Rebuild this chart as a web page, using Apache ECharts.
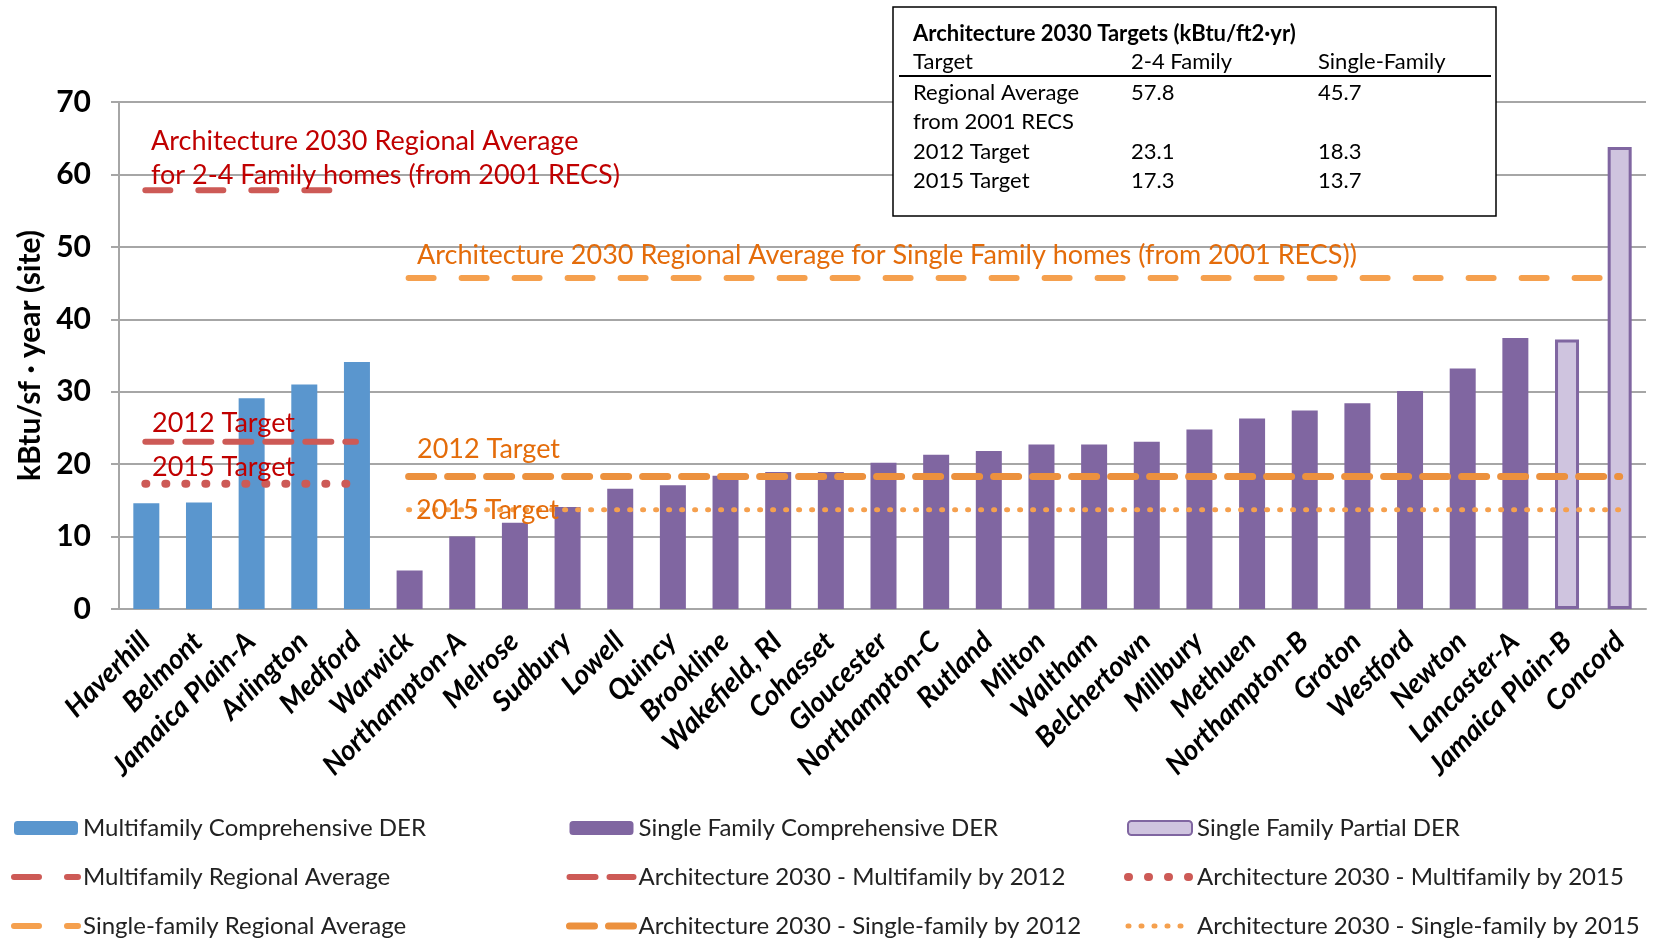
<!DOCTYPE html>
<html>
<head>
<meta charset="utf-8">
<script src="https://cdn.jsdelivr.net/npm/echarts@6/dist/echarts.min.js"></script>
<style>
  html, body { margin: 0; padding: 0; background: #fff; }
  #chart { width: 1663px; height: 941px; }
</style>
</head>
<body>
<div id="chart"></div>
<script>
const FONT = 'Lato, "Open Sans", sans-serif';

const categories = ['Haverhill', 'Belmont', 'Jamaica Plain-A', 'Arlington', 'Medford', 'Warwick',
  'Northampton-A', 'Melrose', 'Sudbury', 'Lowell', 'Quincy', 'Brookline', 'Wakefield, RI', 'Cohasset',
  'Gloucester', 'Northampton-C', 'Rutland', 'Milton', 'Waltham', 'Belchertown', 'Millbury', 'Methuen',
  'Northampton-B', 'Groton', 'Westford', 'Newton', 'Lancaster-A', 'Jamaica Plain-B', 'Concord'];

// bar values, kBtu/sf·year (site)
const multifamilyDER = [['Haverhill', 14.6], ['Belmont', 14.7], ['Jamaica Plain-A', 29.1],
  ['Arlington', 31.0], ['Medford', 34.1]];
const singleFamilyDER = [['Warwick', 5.3], ['Northampton-A', 10.0], ['Melrose', 11.9], ['Sudbury', 14.1],
  ['Lowell', 16.6], ['Quincy', 17.1], ['Brookline', 18.4], ['Wakefield, RI', 18.9], ['Cohasset', 18.9],
  ['Gloucester', 20.2], ['Northampton-C', 21.3], ['Rutland', 21.8], ['Milton', 22.7], ['Waltham', 22.7],
  ['Belchertown', 23.1], ['Millbury', 24.8], ['Methuen', 26.3], ['Northampton-B', 27.4], ['Groton', 28.4],
  ['Westford', 30.1], ['Newton', 33.2], ['Lancaster-A', 37.4]];
const singleFamilyPartial = [['Jamaica Plain-B', 37.2], ['Concord', 63.8]];

// Architecture 2030 targets table
const targetRows = ['Regional Average', '2012 Target', '2015 Target'];
const twoToFourFamily = [57.8, 23.1, 17.3];
const singleFamily = [45.7, 18.3, 13.7];

// which categories each group of target lines spans
const mfSpan = ['Haverhill', 'Medford'];
const sfSpan = ['Warwick', 'Concord'];

const RED = '#CD5A56';
const ORANGE = '#F5A04E';
const ORANGE2 = '#EC913E';
const RED_TXT = '#C00000';
const ORANGE_TXT = '#E46C0A';

const span = (range, v) => [[range[0], v], [range[1], v]];

function targetLine(name, range, value, color, width, dash) {
  return {
    name, type: 'line', data: span(range, value), symbol: 'none', silent: true, z: 5,
    lineStyle: { color, width, type: dash, cap: 'round' },
    itemStyle: { color }
  };
}

const chart = echarts.init(document.getElementById('chart'), null, { renderer: 'canvas' });

const txt = (text, x, y, fill, font) => ({
  type: 'text', x, y, z: 100,
  style: { text, fill, font, verticalAlign: 'middle' }
});

const noteFont = '27px ' + FONT;
const tableFont = '22px ' + FONT;
const graphics = [
  txt('Architecture 2030 Regional Average', 151, 141, RED_TXT, noteFont),
  txt('for 2-4 Family homes (from 2001 RECS)', 151, 175, RED_TXT, noteFont),
  txt('2012 Target', 152, 423, RED_TXT, noteFont),
  txt('2015 Target', 152, 467, RED_TXT, noteFont),
  txt('Architecture 2030 Regional Average for Single Family homes (from 2001 RECS))', 417, 255, ORANGE_TXT, noteFont),
  txt('2012 Target', 417, 449, ORANGE_TXT, noteFont),
  txt('2015 Target', 416, 510, ORANGE_TXT, noteFont),
  {
    type: 'rect', z: 90, shape: { x: 893, y: 7, width: 603, height: 209 },
    style: { fill: '#fff', stroke: '#000', lineWidth: 1.5 }
  },
  txt('Architecture 2030 Targets (kBtu/ft2·yr)', 913, 34, '#000', 'bold ' + tableFont),
  txt('Target', 913, 62, '#000', tableFont),
  txt('2-4 Family', 1131, 62, '#000', tableFont),
  txt('Single-Family', 1318, 62, '#000', tableFont),
  { type: 'line', z: 100, shape: { x1: 899, y1: 76, x2: 1491, y2: 76 }, style: { stroke: '#000', lineWidth: 2 } },
  txt(targetRows[0], 913, 93, '#000', tableFont),
  txt('from 2001 RECS', 913, 122, '#000', tableFont),
  txt(targetRows[1], 913, 152, '#000', tableFont),
  txt(targetRows[2], 913, 181, '#000', tableFont)
];
[93, 152, 181].forEach((y, i) => {
  graphics.push(txt(twoToFourFamily[i].toFixed(1), 1131, y, '#000', tableFont));
  graphics.push(txt(singleFamily[i].toFixed(1), 1318, y, '#000', tableFont));
});

const legendText = { color: '#222', fontSize: 24, fontFamily: FONT };
const legendBase = {
  orient: 'vertical', top: 816, padding: 0, itemWidth: 64, itemHeight: 14, itemGap: 25,
  textStyle: legendText, selectedMode: false, lineStyle: { width: 'inherit' }
};
const hideSym = { opacity: 0 };
const item = (name, isLine) => isLine ? { name, itemStyle: hideSym } : { name };

chart.setOption({
  backgroundColor: '#fff',
  animation: false,
  grid: { left: 119, right: 17, top: 102, bottom: 332 },
  graphic: graphics,
  legend: [
    Object.assign({}, legendBase, { left: 11, data: [
      item('Multifamily Comprehensive DER'), item('Multifamily Regional Average', true),
      item('Single-family Regional Average', true)] }),
    Object.assign({}, legendBase, { left: 566, data: [
      item('Single Family Comprehensive DER'), item('Architecture 2030 - Multifamily by 2012', true),
      item('Architecture 2030 - Single-family by 2012', true)] }),
    Object.assign({}, legendBase, { left: 1124, data: [
      item('Single Family Partial DER'), item('Architecture 2030 - Multifamily by 2015', true),
      item('Architecture 2030 - Single-family by 2015', true)] })
  ],
  xAxis: {
    type: 'category',
    data: categories,
    axisLine: { lineStyle: { color: '#A6A6A6', width: 2 } },
    axisTick: { length: 7, lineStyle: { color: '#A6A6A6', width: 2 } },
    axisLabel: {
      rotate: 45, interval: 0, margin: 28, color: '#000',
      fontSize: 28, fontWeight: 'bold', fontStyle: 'italic', fontFamily: FONT
    }
  },
  yAxis: {
    type: 'value', min: 0, max: 70, interval: 10,
    name: 'kBtu/sf · year (site)',
    nameLocation: 'middle', nameGap: 70, nameRotate: 90,
    nameTextStyle: { color: '#000', fontSize: 30, fontWeight: 'bold', fontFamily: FONT },
    axisLine: { show: true, lineStyle: { color: '#A6A6A6', width: 2 } },
    axisTick: { show: true, length: 8, lineStyle: { color: '#A6A6A6', width: 2 } },
    axisLabel: { color: '#000', fontSize: 30, fontWeight: 'bold', fontFamily: FONT, margin: 28 },
    splitLine: { lineStyle: { color: '#A6A6A6', width: 2 } }
  },
  series: [
    {
      name: 'Multifamily Comprehensive DER', type: 'bar', data: multifamilyDER,
      barWidth: 26, barGap: '-100%', itemStyle: { color: '#5A96CE' }
    },
    {
      name: 'Single Family Comprehensive DER', type: 'bar', data: singleFamilyDER,
      barWidth: 26, barGap: '-100%', itemStyle: { color: '#8066A1' }
    },
    {
      name: 'Single Family Partial DER', type: 'bar', data: singleFamilyPartial,
      barWidth: 24, barGap: '-100%', itemStyle: { color: '#CFC4DF', borderColor: '#8066A1', borderWidth: 3 }
    },
    targetLine('Multifamily Regional Average', mfSpan, twoToFourFamily[0], RED, 6, [25, 28]),
    targetLine('Architecture 2030 - Multifamily by 2012', mfSpan, twoToFourFamily[1], RED, 6, [26, 14]),
    targetLine('Architecture 2030 - Multifamily by 2015', mfSpan, twoToFourFamily[2], RED, 8, [1, 19]),
    targetLine('Single-family Regional Average', sfSpan, singleFamily[0], ORANGE, 6, [25, 28]),
    targetLine('Architecture 2030 - Single-family by 2012', sfSpan, singleFamily[1], ORANGE2, 7, [25, 14]),
    targetLine('Architecture 2030 - Single-family by 2015', sfSpan, singleFamily[2], ORANGE, 5, [1, 12])
  ]
});
</script>
</body>
</html>
